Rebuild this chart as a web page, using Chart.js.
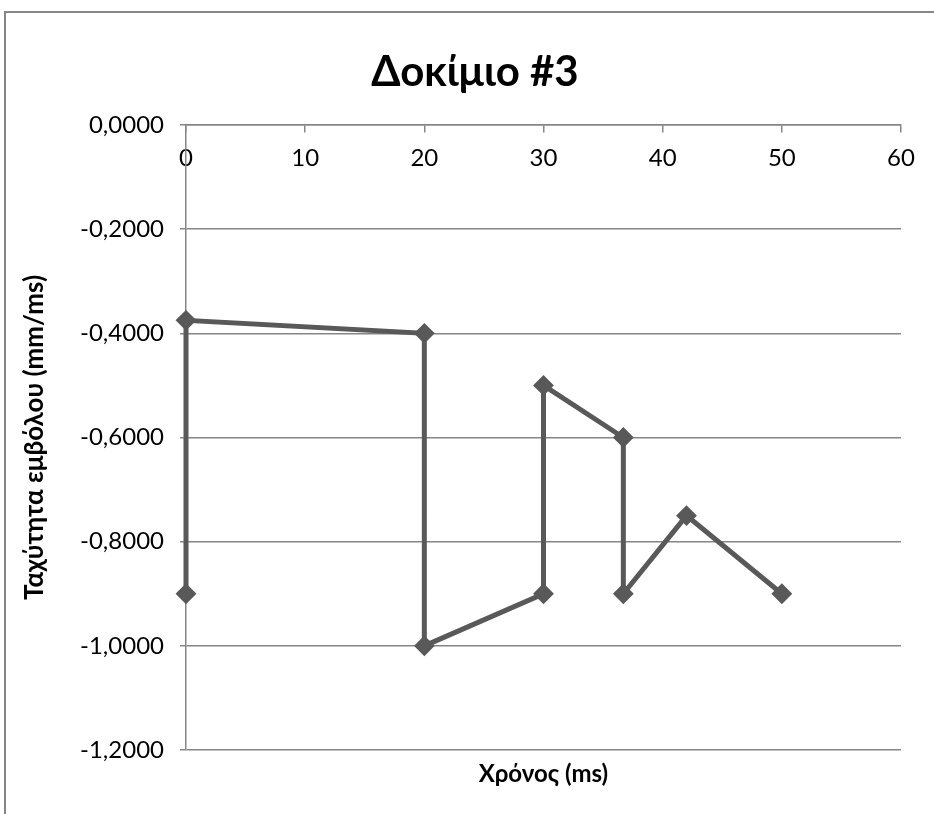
<!DOCTYPE html>
<html>
<head>
<meta charset="utf-8">
<script src="https://cdn.jsdelivr.net/npm/chart.js@4/dist/chart.umd.min.js"></script>
<style>
  html, body { margin: 0; padding: 0; background: #ffffff; }
  #wrap { width: 934px; height: 814px; position: relative; }
</style>
</head>
<body>
<div id="wrap"><canvas id="c"></canvas></div>
<script>
// Piston speed vs. time, specimen #3
const chartTitle = 'Δοκίμιο #3';
const xAxisTitle = 'Χρόνος (ms)';
const yAxisTitle = 'Ταχύτητα εμβόλου (mm/ms)';

const timeMs      = [0, 0, 20, 20, 30, 30, 36.7, 36.7, 42, 50];
const pistonSpeed = [-0.9, -0.375, -0.4, -1.0, -0.9, -0.5, -0.6, -0.9, -0.75, -0.9];

const xTicks = [0, 10, 20, 30, 40, 50, 60];
const yTicks = [0, -0.2, -0.4, -0.6, -0.8, -1.0, -1.2];

const FONT = 'Lato, sans-serif';
const GRID = '#868686';
const SERIES = '#595959';

const points = timeMs.map((t, i) => ({ x: t, y: pistonSpeed[i] }));

function fmtSpeed(v) {
  const s = Math.abs(v).toFixed(4).replace('.', ',');
  return (v < -1e-9 ? '-' : '') + s;
}

// Outer frame, chart title and horizontal axis title
const decorations = {
  id: 'decorations',
  beforeDraw(chart) {
    const ctx = chart.ctx;
    ctx.save();
    ctx.fillStyle = '#ffffff';
    ctx.fillRect(0, 0, chart.width, chart.height);
    ctx.strokeStyle = GRID;
    ctx.lineWidth = 2;
    ctx.strokeRect(5, 12, 1000, 1000);
    ctx.restore();
  },
  afterDraw(chart) {
    const ctx = chart.ctx;
    const area = chart.chartArea;
    ctx.save();
    ctx.fillStyle = '#000000';
    ctx.textAlign = 'center';
    ctx.textBaseline = 'alphabetic';
    ctx.font = 'bold 42px ' + FONT;
    ctx.fillText(chartTitle, 475, 86);
    ctx.font = 'bold 24px ' + FONT;
    ctx.textBaseline = 'middle';
    ctx.fillText(xAxisTitle, (area.left + area.right) / 2, 774);
    ctx.restore();
  }
};

new Chart(document.getElementById('c'), {
  type: 'scatter',
  data: {
    datasets: [{
      data: points,
      showLine: true,
      borderColor: SERIES,
      borderWidth: 5,
      backgroundColor: SERIES,
      pointStyle: 'rectRot',
      pointRadius: 9,
      pointHoverRadius: 9,
      pointBorderWidth: 2,
      pointBackgroundColor: SERIES,
      pointBorderColor: SERIES,
      tension: 0,
      clip: false
    }]
  },
  options: {
    responsive: true,
    maintainAspectRatio: false,
    animation: false,
    events: [],
    layout: { padding: { left: 0, right: 33, top: 125, bottom: 64 } },
    plugins: {
      legend: { display: false },
      title: { display: false },
      tooltip: { enabled: false }
    },
    scales: {
      x: {
        type: 'linear',
        position: { y: 0 },
        min: 0,
        max: 60,
        afterBuildTicks: (scale) => { scale.ticks = xTicks.map(v => ({ value: v })); },
        grid: {
          drawOnChartArea: false,
          drawTicks: true,
          tickLength: 7,
          color: GRID,
          lineWidth: 1.5
        },
        border: { display: true, color: GRID, width: 1.5 },
        ticks: {
          color: '#000000',
          padding: 12,
          maxRotation: 0,
          font: { family: FONT, size: 24 },
          callback: (v) => String(v)
        }
      },
      y: {
        type: 'linear',
        position: 'left',
        min: -1.2,
        max: 0,
        afterBuildTicks: (scale) => { scale.ticks = yTicks.slice().reverse().map(v => ({ value: v })); },
        afterFit: (scale) => { scale.width = 186; },
        grid: {
          drawOnChartArea: true,
          drawTicks: true,
          tickLength: 6,
          color: GRID,
          lineWidth: 1.5
        },
        border: { display: true, color: GRID, width: 1.5 },
        ticks: {
          color: '#000000',
          padding: 16,
          font: { family: FONT, size: 24 },
          callback: (v) => fmtSpeed(v)
        },
        title: {
          display: true,
          text: yAxisTitle,
          color: '#000000',
          font: { family: FONT, size: 26, weight: 'bold' },
          padding: { top: 19, bottom: 0 }
        }
      }
    }
  },
  plugins: [decorations]
});
</script>
</body>
</html>
